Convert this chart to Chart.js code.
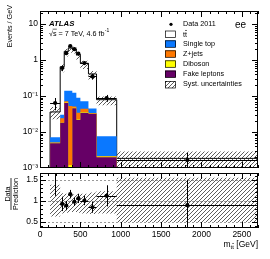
<!DOCTYPE html>
<html>
<head>
<meta charset="utf-8">
<script src="https://cdn.jsdelivr.net/npm/chart.js@4.4.0/dist/chart.umd.min.js"></script>
<style>
html, body { margin: 0; padding: 0; background: #fff; }
#wrap { position: relative; width: 270px; height: 259px; }
canvas { position: absolute; left: 0; top: 0; }
</style>
</head>
<body>
<div id="wrap">
  <canvas id="ratio" width="270" height="259"></canvas>
  <canvas id="main" width="270" height="259"></canvas>
</div>
<script>
// bin edges of m_tt [GeV]
const edges = [125, 250, 300, 350, 400, 450, 500, 600, 700, 950, 2700];

// events / GeV
const dataVals = [0.064, 0.60, 1.55, 2.45, 2.0, 1.5, 0.82, 0.35, 0.088, 0.00166];
const dataErr  = [0.024, 0.11, 0.18, 0.22, 0.20, 0.17, 0.09, 0.06, 0.019, 0.00097];

const ttbar     = [0.0289, 0.62, 1.60, 2.01, 1.917, 1.331, 0.738, 0.365, 0.0714, 0.00078];
const singleTop = [0.0021, 0.006, 0.068, 0.087, 0.072, 0.055, 0.028, 0.0114, 0.0055, 0.00003];
const zjets     = [0.0001, 0.0055, 0.006, 0.052, 0.0035, 0.011, 0.008, 0.0008, 0.00002, 0.00001];
const diboson   = [0.0001, 0.0005, 0.002, 0.0007, 0.0015, 0.001, 0.002, 0.0008, 0.0001, 0.00001];
const fake      = [0.0049, 0.018, 0.064, 0.0005, 0.046, 0.022, 0.034, 0.032, 0.002, 0.00102];

// data / prediction
const ratioVals = [1.78, 0.93, 0.89, 1.16, 0.98, 1.06, 1.01, 0.85, 1.12, 0.90];
const ratioErr  = [0.66, 0.17, 0.11, 0.10, 0.10, 0.11, 0.11, 0.13, 0.25, 0.60];
const systUp    = [1.38, 1.18, 1.17, 1.15, 1.15, 1.16, 1.17, 1.2, 1.23, 1.55];
const systDown  = [0.63, 0.70, 0.72, 0.74, 0.74, 0.72, 0.70, 0.69, 0.70, 0.50];

const xTicks = [0, 500, 1000, 1500, 2000, 2500];
const yTicks = [0.001, 0.01, 0.1, 1, 10];
const yTickLabels = ['10\u207B\u00B3', '10\u207B\u00B2', '10\u207B\u00B9', '1', '10'];
const rTicks = [0.5, 1, 1.5];
const rTickLabels = ['0.5', '1', '1.5'];

const FONT = '"Liberation Sans", Arial, Helvetica, sans-serif';
const cBlue = '#0a78ff', cOrange = '#ff7800', cYellow = '#ffff00', cPurple = '#660066';
const Y_MIN = 0.001, Y_MAX = 23;

function hatch(ctx) {
    const c = document.createElement('canvas');
    c.width = 4; c.height = 4;
    const g = c.getContext('2d');
    g.strokeStyle = '#333';
    g.lineWidth = 0.8;
    g.beginPath();
    g.moveTo(0, 4); g.lineTo(4, 0);
    g.moveTo(-1, 1); g.lineTo(1, -1);
    g.moveTo(3, 5); g.lineTo(5, 3);
    g.stroke();
    return ctx.createPattern(c, 'repeat');
}

// histogram as step points
function steps(vals, start) {
    const pts = edges.map((x, i) => ({x: x, y: vals[Math.min(i, vals.length - 1)]}));
    if (start) pts.unshift({x: edges[0], y: start});
    return pts;
}
const centers = edges.slice(1).map((e, i) => (edges[i] + e) / 2);

let run = dataVals.map(() => 0);
const cum = [fake, diboson, zjets, singleTop, ttbar].map(s => run = run.map((v, i) => v + s[i]));
const total = cum[4];

function frameTicks(chart, yt, lenMaj, lenMin) {
    const {ctx, chartArea: a, scales: {x, y}} = chart;
    ctx.save();
    ctx.strokeStyle = '#000';
    ctx.lineWidth = 1;
    ctx.strokeRect(a.left + 0.5, a.top + 0.5, a.right - a.left - 1, a.bottom - a.top - 1);
    ctx.beginPath();
    for (let v = 0; v <= 2700; v += 100) {
        const px = Math.round(x.getPixelForValue(v)) + 0.5;
        const l = v % 500 === 0 ? lenMaj : lenMin;
        ctx.moveTo(px, a.bottom); ctx.lineTo(px, a.bottom - l);
        ctx.moveTo(px, a.top); ctx.lineTo(px, a.top + l);
    }
    yt.forEach(t => {
        const py = Math.round(y.getPixelForValue(t.v)) + 0.5;
        if (py < a.top || py > a.bottom) return;
        const l = t.major ? lenMaj : lenMin;
        ctx.moveTo(a.left, py); ctx.lineTo(a.left + l, py);
        ctx.moveTo(a.right, py); ctx.lineTo(a.right - l, py);
    });
    ctx.stroke();
    ctx.restore();
}

function errorBars(chart, vals, errs) {
    const {ctx, chartArea: a, scales: {x, y}} = chart;
    ctx.save();
    ctx.beginPath();
    ctx.rect(a.left, a.top, a.right - a.left, a.bottom - a.top);
    ctx.clip();
    ctx.strokeStyle = '#000';
    ctx.lineWidth = 1;
    ctx.beginPath();
    vals.forEach((v, i) => {
        const px = Math.round(x.getPixelForValue(centers[i])) + 0.5;
        const py = Math.round(y.getPixelForValue(v)) + 0.5;
        ctx.moveTo(x.getPixelForValue(edges[i]), py);
        ctx.lineTo(x.getPixelForValue(edges[i + 1]), py);
        const lo = Math.max(v - errs[i], y.min * 0.5);
        ctx.moveTo(px, y.getPixelForValue(lo));
        ctx.lineTo(px, y.getPixelForValue(v + errs[i]));
    });
    ctx.stroke();
    ctx.restore();
}

function tt(ctx, x, y, size) {
    // "tt" with a bar over the second t
    ctx.font = size + 'px ' + FONT;
    ctx.textBaseline = 'alphabetic';
    ctx.textAlign = 'left';
    ctx.fillText('tt', x, y);
    const w1 = ctx.measureText('t').width;
    const w2 = ctx.measureText('tt').width;
    ctx.fillRect(x + w1, y - size * 0.92, w2 - w1, Math.max(0.6, size * 0.08));
    return w2;
}

const logMinor = [];
for (let d = -3; d <= 1; d++) {
    for (let k = 1; k <= 9; k++) logMinor.push({v: k * Math.pow(10, d), major: k === 1});
}

const mainCtx = document.getElementById('main').getContext('2d');
const mainHatch = hatch(mainCtx);

const mainDecor = {
    id: 'mainDecor',
    afterDatasetsDraw(chart) {
        errorBars(chart, dataVals, dataErr);
        frameTicks(chart, logMinor, 6, 3);
        const ctx = chart.ctx;
        ctx.save();
        ctx.fillStyle = '#000';
        // y title
        ctx.save();
        ctx.translate(12, 5);
        ctx.rotate(-Math.PI / 2);
        ctx.font = '7.2px ' + FONT;
        ctx.textAlign = 'right';
        ctx.textBaseline = 'alphabetic';
        ctx.fillText('Events / GeV', 0, 0);
        ctx.restore();
        // ATLAS label
        ctx.font = 'italic bold 7.8px ' + FONT;
        ctx.textAlign = 'left';
        ctx.textBaseline = 'alphabetic';
        ctx.fillText('ATLAS', 49, 26);
        ctx.font = '7.2px ' + FONT;
        const s1 = '\u221As = 7 TeV, 4.6 fb';
        ctx.fillText(s1, 49, 35.5);
        const w1 = ctx.measureText(s1).width;
        const wr = ctx.measureText('\u221A').width;
        ctx.fillRect(49 + wr - 0.3, 28.8, ctx.measureText('s').width + 0.6, 0.6);
        ctx.font = '5px ' + FONT;
        ctx.fillText('-1', 49 + w1 + 0.3, 32);
        // channel
        ctx.font = '10px ' + FONT;
        ctx.fillText('ee', 235, 27.5);
        // legend
        const lx = 165, tx = 183;
        const rows = [24.3, 34, 43.8, 53.8, 63.8, 74, 84.5];
        ctx.font = '7.2px ' + FONT;
        ctx.textBaseline = 'middle';
        ctx.beginPath();
        ctx.arc(lx + 6, rows[0], 1.6, 0, Math.PI * 2);
        ctx.fill();
        ctx.fillText('Data 2011', tx, rows[0]);
        const boxes = [['#ffffff', null], [cBlue, 'Single top'], [cOrange, 'Z+jets'],
                       [cYellow, 'Diboson'], [cPurple, 'Fake leptons'], [mainHatch, 'Syst. uncertainties']];
        boxes.forEach((b, i) => {
            const yy = rows[i + 1];
            ctx.fillStyle = '#fff';
            ctx.fillRect(lx, yy - 3.5, 11, 7);
            ctx.fillStyle = b[0];
            ctx.fillRect(lx, yy - 3.5, 11, 7);
            ctx.strokeStyle = '#000';
            ctx.lineWidth = 0.7;
            ctx.strokeRect(lx + 0.5, yy - 3, 10, 6.5);
            ctx.fillStyle = '#000';
            ctx.font = '7.2px ' + FONT;
            ctx.textBaseline = 'middle';
            if (b[1]) ctx.fillText(b[1], tx, yy);
            else tt(ctx, tx, yy + 2.6, 7.2);
        });
        ctx.restore();
    }
};

// lower "order" is drawn on top
new Chart(mainCtx, {
    type: 'line',
    data: {
        datasets: [
            {data: steps(total, Y_MIN), order: 7, stepped: true, fill: 'start', backgroundColor: '#fff', borderColor: '#000', borderWidth: 1},
            {data: steps(cum[3]), order: 6, stepped: true, fill: 'start', backgroundColor: cBlue, borderWidth: 0},
            {data: steps(cum[2]), order: 5, stepped: true, fill: 'start', backgroundColor: cOrange, borderWidth: 0},
            {data: steps(cum[1]), order: 4, stepped: true, fill: 'start', backgroundColor: cYellow, borderWidth: 0},
            {data: steps(fake), order: 3, stepped: true, fill: 'start', backgroundColor: cPurple, borderWidth: 0},
            {data: steps(total.map((v, i) => v * systDown[i])), order: 2, stepped: true, fill: false, borderWidth: 0},
            {data: steps(total.map((v, i) => v * systUp[i])), order: 1, stepped: true, fill: '-1', backgroundColor: mainHatch, borderWidth: 0},
            {data: centers.map((x, i) => ({x: x, y: dataVals[i]})), order: 0, showLine: false, pointRadius: 2.1,
             pointBackgroundColor: '#000', pointBorderWidth: 0}
        ]
    },
    options: {
        responsive: false,
        animation: false,
        events: [],
        layout: {padding: {top: 11, right: 12, bottom: 91, left: 0}},
        elements: {point: {radius: 0}},
        plugins: {legend: {display: false}, tooltip: {enabled: false}},
        scales: {
            x: {type: 'linear', min: 0, max: 2700, display: false},
            y: {
                type: 'logarithmic', min: Y_MIN, max: Y_MAX,
                afterFit(s) { s.width = 40; },
                afterBuildTicks(s) { s.ticks = yTicks.map(v => ({value: v})); },
                ticks: {
                    autoSkip: false, padding: 2, color: '#000',
                    font: {family: FONT, size: 8.5},
                    callback: (v) => yTickLabels[yTicks.indexOf(v)]
                },
                grid: {display: false, drawTicks: false},
                border: {display: false}
            }
        }
    },
    plugins: [mainDecor]
});

const ratioCtx = document.getElementById('ratio').getContext('2d');
const ratioHatch = hatch(ratioCtx);
const rMinor = [];
for (let k = 4; k <= 16; k++) rMinor.push({v: k / 10, major: k % 5 === 0});

const ratioDecor = {
    id: 'ratioDecor',
    beforeDatasetsDraw(chart) {
        const {ctx, chartArea: a, scales: {y}} = chart;
        ctx.save();
        ctx.strokeStyle = '#999';
        ctx.lineWidth = 1;
        ctx.setLineDash([2, 2]);
        rTicks.forEach(v => {
            const py = Math.round(y.getPixelForValue(v)) + 0.5;
            ctx.beginPath();
            ctx.moveTo(a.left, py); ctx.lineTo(a.right, py);
            ctx.stroke();
        });
        ctx.restore();
    },
    afterDatasetsDraw(chart) {
        errorBars(chart, ratioVals, ratioErr);
        frameTicks(chart, rMinor, 6, 3);
        const ctx = chart.ctx;
        ctx.save();
        ctx.fillStyle = '#000';
        // Data / Prediction as a fraction
        ctx.save();
        ctx.translate(11, 194);
        ctx.rotate(-Math.PI / 2);
        ctx.font = '7.2px ' + FONT;
        ctx.textAlign = 'center';
        ctx.textBaseline = 'alphabetic';
        ctx.fillText('Data', 0, -1.5);
        const w = ctx.measureText('Prediction').width;
        ctx.fillRect(-w / 2, -0.4, w, 0.8);
        ctx.textBaseline = 'top';
        ctx.fillText('Prediction', 0, 1.2);
        ctx.restore();
        // x title
        ctx.font = '8.5px ' + FONT;
        ctx.textBaseline = 'alphabetic';
        ctx.textAlign = 'left';
        const wG = ctx.measureText(' [GeV]').width;
        ctx.font = '6px ' + FONT;
        const wt = ctx.measureText('tt').width;
        ctx.font = '8.5px ' + FONT;
        const wm = ctx.measureText('m').width;
        const x0 = 258 - wG - wt - wm;
        ctx.fillText('m', x0, 246.5);
        tt(ctx, x0 + wm, 248.5, 6);
        ctx.font = '8.5px ' + FONT;
        ctx.fillText(' [GeV]', x0 + wm + wt, 246.5);
        ctx.restore();
    }
};

new Chart(ratioCtx, {
    type: 'line',
    data: {
        datasets: [
            {data: steps(systDown), order: 2, stepped: true, fill: false, borderWidth: 0},
            {data: steps(systUp), order: 1, stepped: true, fill: '-1', backgroundColor: ratioHatch, borderWidth: 0},
            {data: centers.map((x, i) => ({x: x, y: ratioVals[i]})), order: 0, showLine: false, pointRadius: 2.1,
             pointBackgroundColor: '#000', pointBorderWidth: 0}
        ]
    },
    options: {
        responsive: false,
        animation: false,
        events: [],
        layout: {padding: {top: 173, right: 12, bottom: 0, left: 0}},
        elements: {point: {radius: 0}},
        plugins: {legend: {display: false}, tooltip: {enabled: false}},
        scales: {
            x: {
                type: 'linear', min: 0, max: 2700,
                afterFit(s) { s.height = 31; },
                afterBuildTicks(s) { s.ticks = xTicks.map(v => ({value: v})); },
                ticks: {
                    autoSkip: false, maxRotation: 0, padding: 2, color: '#000',
                    font: {family: FONT, size: 8.5},
                    callback: (v) => String(v)
                },
                grid: {display: false, drawTicks: false},
                border: {display: false}
            },
            y: {
                type: 'linear', min: 0.36, max: 1.66,
                afterFit(s) { s.width = 40; },
                afterBuildTicks(s) { s.ticks = rTicks.map(v => ({value: v})); },
                ticks: {
                    autoSkip: false, padding: 2, color: '#000',
                    font: {family: FONT, size: 8.5},
                    callback: (v) => rTickLabels[rTicks.indexOf(v)]
                },
                grid: {display: false, drawTicks: false},
                border: {display: false}
            }
        }
    },
    plugins: [ratioDecor]
});
</script>
</body>
</html>
